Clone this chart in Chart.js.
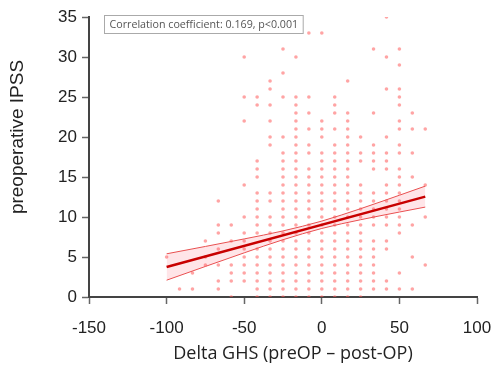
<!DOCTYPE html>
<html>
<head>
<meta charset="utf-8">
<script src="https://cdn.jsdelivr.net/npm/chart.js@4/dist/chart.umd.min.js"></script>
<style>
  body { margin: 0; background: #fff; }
  #wrap { width: 499px; height: 369px; }
</style>
</head>
<body>
<div id="wrap"><canvas id="ghsChart" width="499" height="369"></canvas></div>
<script>
// Delta GHS columns (steps of 100/12) and the IPSS values seen in each column
const ghsColumns = [-100, -91.67, -83.33, -75, -66.67, -58.33, -50, -41.67, -33.33, -25, -16.67,
                    -8.33, 0, 8.33, 16.67, 25, 33.33, 41.67, 50, 58.33, 66.67];
const ipssByColumn = [
  [5],
  [1],
  [1, 3],
  [4, 5, 7],
  [1, 2, 4, 6, 8, 9, 12],
  [0, 2, 3, 4, 7, 9],
  [2, 3, 4, 5, 6, 7, 8, 10, 14, 22, 25, 30],
  [0, 1, 2, 3, 4, 5, 6, 8, 9, 10, 11, 12, 13, 15, 16, 17, 24, 25],
  [0, 1, 2, 3, 4, 5, 6, 7, 8, 9, 10, 12, 13, 19, 20, 22, 24, 26, 27],
  [0, 1, 2, 3, 4, 5, 6, 7, 8, 9, 10, 11, 12, 13, 14, 15, 16, 17, 18, 20, 25, 28, 31],
  [0, 1, 2, 3, 4, 5, 6, 7, 8, 9, 10, 11, 12, 13, 14, 15, 16, 17, 18, 19, 20, 21, 22, 23, 24, 25, 30],
  [0, 1, 2, 3, 4, 5, 6, 7, 8, 9, 10, 11, 12, 13, 14, 15, 16, 18, 19, 21, 23, 25, 33],
  [0, 1, 2, 3, 4, 5, 6, 7, 8, 9, 10, 11, 12, 13, 14, 15, 16, 17, 18, 20, 21, 22, 33],
  [0, 1, 2, 3, 4, 5, 6, 7, 8, 9, 10, 11, 12, 13, 14, 15, 16, 17, 18, 19, 21, 23, 24, 25],
  [0, 1, 2, 3, 4, 5, 6, 7, 8, 9, 10, 11, 12, 13, 14, 15, 16, 17, 18, 19, 20, 21, 22, 23, 27],
  [0, 1, 2, 3, 4, 5, 6, 7, 8, 9, 10, 11, 12, 13, 14, 17, 18, 20],
  [1, 2, 3, 4, 5, 6, 7, 9, 10, 11, 12, 13, 16, 17, 18, 19, 23, 31],
  [1, 2, 6, 7, 9, 10, 11, 12, 13, 14, 16, 17, 18, 20, 26, 30, 35],
  [1, 3, 8, 9, 10, 11, 12, 13, 14, 15, 16, 18, 19, 21, 22, 24, 25, 26, 29, 31],
  [1, 5, 9, 15, 18, 21, 23],
  [4, 10, 14, 21]
];

// regression line and its confidence band
const fitX = [-100, 66.67];
const fitY = [3.75, 12.55];
const bandX = [-100, -75, -50, -25, 0, 25, 50, 66.67];
const bandUpper = [5.4, 6.32, 7.26, 8.26, 9.49, 11.04, 12.72, 13.86];
const bandLower = [2.1, 3.82, 5.52, 7.16, 8.57, 9.66, 10.62, 11.24];

const xTicks = [-150, -100, -50, 0, 50, 100];
const yTicks = [0, 5, 10, 15, 20, 25, 30, 35];
const xTitle = 'Delta GHS (preOP \u2013 post-OP)';
const yTitle = 'preoperative IPSS';
const corrText = 'Correlation coefficient: 0.169, p<0.001';

const points = [];
ghsColumns.forEach((gx, i) => ipssByColumn[i].forEach(v => points.push({ x: gx, y: v })));
const toXY = (xs, ys) => xs.map((x, i) => ({ x: x, y: ys[i] }));

// axis titles sit a little off-centre in the original, and the note box
const extras = {
  id: 'extras',
  afterDraw(chart) {
    const c = chart.ctx, a = chart.chartArea;
    c.save();
    c.fillStyle = '#222';
    c.textAlign = 'center';
    c.textBaseline = 'middle';
    c.font = '18px "Open Sans", sans-serif';
    c.fillText(xTitle, 293, 354);
    c.save();
    c.translate(18, 137);
    c.rotate(-Math.PI / 2);
    c.font = '19px "Liberation Sans", Arial, sans-serif';
    c.fillText(yTitle, 0, 0);
    c.restore();

    c.font = '10.7px "Open Sans", sans-serif';
    c.textAlign = 'left';
    const w = c.measureText(corrText).width + 10;
    const bx = a.left + 15.5, by = a.top - 1.5;
    c.fillStyle = '#fff';
    c.fillRect(bx, by, w, 18);
    c.strokeStyle = '#aaa';
    c.lineWidth = 1;
    c.strokeRect(bx, by, w, 18);
    c.fillStyle = '#555';
    c.fillText(corrText, bx + 5, by + 9.5);
    c.restore();
  }
};

new Chart(document.getElementById('ghsChart'), {
  type: 'scatter',
  data: {
    datasets: [
      {
        label: 'Fit',
        type: 'line',
        data: toXY(fitX, fitY),
        borderColor: '#c80000',
        borderWidth: 2.5,
        pointRadius: 0,
        fill: false,
        order: 0
      },
      {
        label: 'Upper CI',
        type: 'line',
        data: toXY(bandX, bandUpper),
        borderColor: '#e85050',
        borderWidth: 1,
        pointRadius: 0,
        cubicInterpolationMode: 'monotone',
        fill: '+1',
        backgroundColor: 'rgba(255, 70, 90, 0.14)',
        order: 1
      },
      {
        label: 'Lower CI',
        type: 'line',
        data: toXY(bandX, bandLower),
        borderColor: '#e85050',
        borderWidth: 1,
        pointRadius: 0,
        cubicInterpolationMode: 'monotone',
        fill: false,
        order: 2
      },
      {
        label: 'Patients',
        data: points,
        pointRadius: 1.8,
        pointBorderWidth: 0,
        backgroundColor: 'rgba(255, 90, 90, 0.55)',
        order: 3
      }
    ]
  },
  options: {
    responsive: false,
    animation: false,
    layout: { padding: { left: 0, right: 22, top: 17, bottom: 0 } },
    plugins: {
      legend: { display: false },
      tooltip: { enabled: false }
    },
    scales: {
      x: {
        type: 'linear',
        min: -150,
        max: 100,
        afterBuildTicks: s => { s.ticks = xTicks.map(v => ({ value: v })); },
        afterFit: s => { s.height = 72; s.paddingLeft = 0; s.paddingRight = 0; },
        grid: { drawOnChartArea: false, drawTicks: true, tickLength: 7, tickColor: '#666', tickWidth: 1.5 },
        border: { color: '#444', width: 2 },
        ticks: { color: '#222', font: { family: '"Liberation Sans", Arial', size: 17 }, padding: 14, maxRotation: 0, autoSkip: false },
        title: { display: false, text: xTitle }
      },
      y: {
        type: 'linear',
        min: 0,
        max: 35,
        afterBuildTicks: s => { s.ticks = yTicks.map(v => ({ value: v })); },
        afterFit: s => { s.width = 89; },
        grid: { drawOnChartArea: false, drawTicks: true, tickLength: 7, tickColor: '#666', tickWidth: 1.5 },
        border: { color: '#444', width: 2 },
        ticks: { color: '#222', font: { family: '"Liberation Sans", Arial', size: 17 }, padding: 5 },
        title: { display: false, text: yTitle }
      }
    }
  },
  plugins: [extras]
});
</script>
</body>
</html>
